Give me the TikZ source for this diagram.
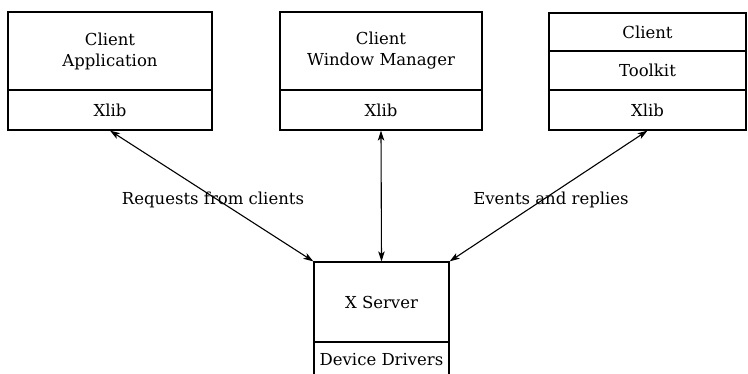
\documentclass[tikz,border=0pt]{standalone}
\usepackage{fontspec}
\setmainfont{DejaVu Serif}
\usetikzlibrary{arrows.meta}
\begin{document}
\begin{tikzpicture}[x=1pt,y=-1pt,
  part/.style={draw, line width=1.2pt, inner sep=0pt, align=center, font=\fontsize{16.5}{21}\selectfont},
  conn/.style={line width=1.1pt, {Stealth[length=10pt,width=6.5pt,inset=2.5pt]}-{Stealth[length=10pt,width=6.5pt,inset=2.5pt]}},
  lbl/.style={font=\fontsize{16.5}{21}\selectfont, inner sep=1pt}]
\useasboundingbox (0,0) rectangle (748,374);
% left client
\node[part, minimum width=204pt, minimum height=78pt] (a1) at (110,51) {Client\\Application};
\node[part, minimum width=204pt, minimum height=40pt] (a2) at (110,110) {Xlib};
% middle client
\node[part, minimum width=202pt, minimum height=78pt] (b1) at (381,51) {Client\\Window Manager};
\node[part, minimum width=202pt, minimum height=40pt] (b2) at (381,110) {Xlib};
% right client
\node[part, minimum width=197pt, minimum height=38pt] (c1) at (647.5,32) {Client};
\node[part, minimum width=197pt, minimum height=39pt] (c2) at (647.5,70.5) {Toolkit};
\node[part, minimum width=197pt, minimum height=40pt] (c3) at (647.5,110) {Xlib};
% server
\node[part, minimum width=135pt, minimum height=80pt] (s1) at (381.5,302) {X Server};
\node[part, minimum width=135pt, minimum height=36pt] (s2) at (381.5,360) {Device Drivers};
% connectors
\draw[conn] (s1.north west) -- (a2.south);
\draw[conn] (s1.north) -- (b2.south);
\draw[conn] (s1.north east) -- (c3.south);
% labels
\node[lbl] (req) at (213,200) {Requests from clients};
\node[lbl] (evt) at (551,200) {Events and replies};
\end{tikzpicture}
\end{document}
